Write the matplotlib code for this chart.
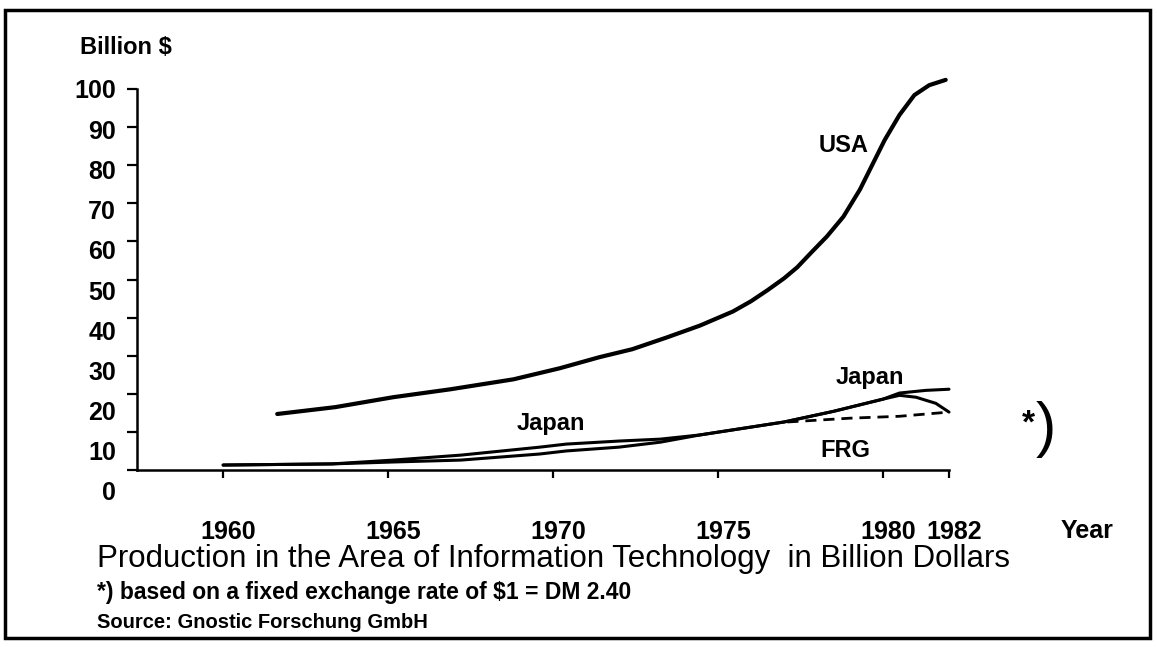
import numpy as np
import matplotlib
matplotlib.use("Agg")
import matplotlib.pyplot as plt
import matplotlib.transforms as mtransforms
from matplotlib.patches import Rectangle

plt.rcParams['font.family'] = ['Liberation Sans', 'DejaVu Sans']

# values (billion $)
usa_years = [1961.64, 1963.4, 1965.15, 1966.9, 1968.8, 1970.2, 1971.4, 1972.4, 1973.45,
             1974.45, 1975.45, 1976.0, 1976.5, 1977.0, 1977.4, 1977.85, 1978.3, 1978.8,
             1979.3, 1979.75, 1980.05, 1980.5, 1980.95, 1981.4, 1981.9]
usa_vals = [14.7, 16.5, 19.1, 21.2, 23.8, 26.7, 29.6, 31.7, 34.8,
            37.9, 41.6, 44.3, 47.2, 50.3, 53.2, 57.3, 61.3, 66.5,
            73.6, 81.4, 86.6, 93.2, 98.4, 101.0, 102.4]

japan_years = [1960.0, 1963.3, 1965.15, 1967.2, 1969.6, 1970.4, 1972.0, 1973.25,
               1974.45, 1977.0, 1978.5, 1980.0, 1980.5, 1981.3, 1982.0]
japan_vals = [1.3, 1.6, 2.1, 2.6, 4.2, 5.0, 6.0, 7.3,
              9.2, 12.6, 15.4, 18.6, 20.2, 20.9, 21.2]

frg_years = [1960.0, 1963.3, 1965.15, 1967.2, 1969.6, 1970.4, 1972.0, 1973.25,
             1974.45, 1977.0, 1978.5, 1980.0, 1980.5, 1981.0, 1981.6, 1982.0]
frg_vals = [1.3, 1.6, 2.6, 3.9, 6.0, 6.8, 7.6, 8.1,
            9.2, 12.6, 15.4, 18.6, 19.6, 19.1, 17.5, 15.2]

# FRG at fixed exchange rate *)
frg_fixed_years = [1977.1, 1979.0, 1980.5, 1982.0]
frg_fixed_vals = [12.6, 13.6, 14.1, 15.2]

xticks = [1960, 1965, 1970, 1975, 1980, 1982]
yticks = [0, 10, 20, 30, 40, 50, 60, 70, 80, 90, 100]

W, H = 1157, 647
fig = plt.figure(figsize=(W / 100, H / 100), dpi=100)
ax = fig.add_axes([137 / W, 1 - 470 / H, (949 - 137) / W, (470 - 89) / H])


def px(x, y):
    # figure fraction from pixel position of the scan
    return x / W, 1 - y / H


ax.plot(usa_years, usa_vals, color='black', lw=3.0, clip_on=False,
        solid_capstyle='round', solid_joinstyle='round')
ax.plot(japan_years, japan_vals, color='black', lw=2.2, clip_on=False,
        solid_capstyle='round', solid_joinstyle='round')
ax.plot(frg_years, frg_vals, color='black', lw=2.2, clip_on=False,
        solid_capstyle='round', solid_joinstyle='round')
ax.plot(frg_fixed_years, frg_fixed_vals, color='black', lw=2.0, ls=(0, (4, 2.5)), clip_on=False)

ax.set_xlim(1957.39, 1982)
ax.set_ylim(0, 100)
ax.spines['top'].set_visible(False)
ax.spines['right'].set_visible(False)
ax.spines['left'].set_linewidth(1.8)
ax.spines['bottom'].set_linewidth(1.8)

ax.set_xticks(xticks)
ax.set_xticklabels([str(t) for t in xticks], fontsize=18, fontweight='bold')
ax.set_yticks(yticks)
ax.set_yticklabels([str(t) for t in yticks], fontsize=18, fontweight='bold')
ax.tick_params(axis='x', direction='out', length=6, width=1.6, pad=30)
ax.tick_params(axis='y', direction='out', length=7, width=1.6, pad=8)

# hand-pasted labels sit a little off their ticks in the original
shift_x = mtransforms.ScaledTranslation(0.05, 0, fig.dpi_scale_trans)
for lab in ax.get_xticklabels():
    lab.set_transform(lab.get_transform() + shift_x)
for lab, v in zip(ax.get_yticklabels(), yticks):
    dy = -(100 - v) * 0.21 / 100
    lab.set_transform(lab.get_transform() + mtransforms.ScaledTranslation(0, dy, fig.dpi_scale_trans))

# series labels
ax.text(1978.8, 85.1, 'USA', fontsize=17, fontweight='bold', ha='center', va='center')
ax.text(1969.94, 12.3, 'Japan', fontsize=17, fontweight='bold', ha='center', va='center')
ax.text(1979.6, 24.3, 'Japan', fontsize=17, fontweight='bold', ha='center', va='center')
ax.text(1978.85, 5.0, 'FRG', fontsize=17, fontweight='bold', ha='center', va='center')

fig.text(*px(80, 48), 'Billion $', fontsize=17, fontweight='bold', ha='left', va='center')
fig.text(*px(1087, 538), 'Year', fontsize=18, fontweight='bold', ha='center', va='baseline')
fig.text(*px(1028, 424), '*', fontsize=24, fontweight='bold', ha='center', va='center')
fig.text(*px(1046, 430), ')', fontsize=44, ha='center', va='center')

fig.text(*px(97, 567), 'Production in the Area of Information Technology  in Billion Dollars',
         fontsize=22.5, ha='left', va='baseline')
fig.text(*px(97, 599), '*) based on a fixed exchange rate of $1 = DM 2.40',
         fontsize=16.5, fontweight='bold', ha='left', va='baseline')
fig.text(*px(97, 628), 'Source: Gnostic Forschung GmbH',
         fontsize=14.5, fontweight='bold', ha='left', va='baseline')

# scanned page frame
fig.add_artist(Rectangle(px(5, 638), (1150 - 5) / W, (638 - 10) / H,
                         transform=fig.transFigure, fill=False, lw=2.5, ec='black'))

plt.savefig('out.png', dpi=100)
